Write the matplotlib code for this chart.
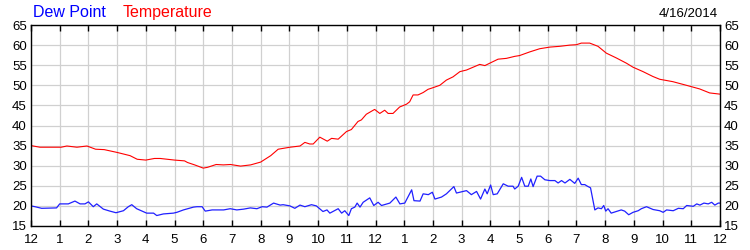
import matplotlib
matplotlib.use('Agg')
import matplotlib.pyplot as plt
import numpy as np

plt.rcParams['font.family'] = ['Liberation Sans', 'DejaVu Sans']

# ===== DADOS (horas desde meia-noite) =====
temp_h = [0.0, 0.31, 1.05, 1.25, 1.6, 1.95, 2.1, 2.25, 2.55, 3.0, 3.45, 3.7, 4.0, 4.3,
          4.5, 5.0, 5.35, 5.45, 5.7, 6.0, 6.15, 6.45, 6.7, 6.95, 7.3, 7.65, 8.0, 8.35,
          8.61, 9.02, 9.37, 9.54, 9.71, 9.83, 10.06, 10.32, 10.47, 10.70, 10.99, 11.16,
          11.39, 11.51, 11.68, 11.80, 11.97, 12.15, 12.32, 12.44, 12.61, 12.84, 13.08,
          13.19, 13.31, 13.48, 13.66, 13.83, 14.0, 14.24, 14.47, 14.70, 14.94, 15.17,
          15.40, 15.63, 15.81, 15.98, 16.27, 16.56, 16.85, 17.02, 17.37, 17.72, 18.07,
          18.42, 18.77, 19.0, 19.17, 19.46, 19.75, 20.04, 20.39, 20.74, 20.97, 21.32,
          21.66, 21.90, 22.36, 22.83, 23.29, 23.64, 24.0]
temp_v = [35.0, 34.6, 34.6, 34.9, 34.6, 34.9, 34.5, 34.1, 34.0, 33.3, 32.5, 31.6, 31.4,
          31.8, 31.8, 31.4, 31.2, 30.8, 30.2, 29.4, 29.6, 30.3, 30.2, 30.3, 29.9, 30.2,
          30.9, 32.5, 34.1, 34.6, 34.9, 35.8, 35.4, 35.4, 37.1, 36.1, 36.8, 36.6, 38.5,
          39.0, 41.0, 41.4, 42.8, 43.3, 44.0, 43.0, 43.8, 43.0, 43.0, 44.6, 45.3, 45.9,
          47.6, 47.6, 48.2, 49.0, 49.4, 50.0, 51.3, 52.1, 53.4, 53.8, 54.5, 55.2, 54.9,
          55.5, 56.5, 56.7, 57.2, 57.4, 58.3, 59.1, 59.5, 59.7, 60.0, 60.1, 60.5, 60.5,
          59.7, 58.0, 56.8, 55.5, 54.5, 53.4, 52.2, 51.5, 50.9, 50.0, 49.1, 48.1, 47.8]

dew_h = [0.0, 0.14, 0.37, 0.89, 1.0, 1.30, 1.53, 1.71, 1.88, 2.0, 2.17, 2.29, 2.52, 2.75,
         2.96, 3.22, 3.39, 3.51, 3.68, 4.03, 4.27, 4.38, 4.61, 4.96, 5.08, 5.31, 5.66,
         5.78, 5.96, 6.07, 6.31, 6.48, 6.71, 6.94, 7.17, 7.41, 7.64, 7.87, 8.05, 8.22,
         8.45, 8.68, 8.78, 9.02, 9.19, 9.37, 9.54, 9.77, 9.94, 10.17, 10.31, 10.41,
         10.70, 10.82, 10.93, 11.07, 11.16, 11.28, 11.36, 11.46, 11.57, 11.80, 11.94,
         12.09, 12.21, 12.50, 12.71, 12.85, 13.02, 13.26, 13.34, 13.55, 13.66, 13.84,
         13.98, 14.07, 14.30, 14.47, 14.73, 14.82, 15.17, 15.34, 15.52, 15.66, 15.81,
         15.89, 16.01, 16.10, 16.24, 16.45, 16.62, 16.79, 16.85, 16.97, 17.09, 17.20,
         17.32, 17.41, 17.49, 17.63, 17.75, 17.90, 18.07, 18.25, 18.36, 18.48, 18.60,
         18.77, 18.94, 19.06, 19.17, 19.29, 19.38, 19.49, 19.64, 19.75, 19.87, 19.95,
         20.02, 20.10, 20.21, 20.39, 20.56, 20.68, 20.82, 20.97, 21.15, 21.26, 21.44,
         21.67, 21.90, 22.02, 22.14, 22.37, 22.55, 22.72, 22.84, 23.07, 23.19, 23.30,
         23.44, 23.59, 23.71, 23.82, 23.94, 24.0]
dew_v = [20.0, 19.8, 19.4, 19.5, 20.5, 20.5, 21.2, 20.5, 20.5, 21.0, 19.8, 20.5, 19.2,
         18.7, 18.3, 18.8, 19.8, 20.3, 19.3, 18.2, 18.2, 17.6, 18.0, 18.2, 18.4, 19.0,
         19.7, 19.8, 19.8, 18.7, 19.0, 19.0, 19.0, 19.3, 19.0, 19.2, 19.5, 19.3, 19.8,
         19.7, 20.7, 20.2, 20.3, 20.0, 19.4, 20.2, 19.8, 20.3, 20.0, 18.6, 19.0, 18.2,
         19.3, 18.2, 18.8, 17.6, 19.3, 19.7, 20.7, 19.7, 20.9, 22.0, 20.1, 20.9, 20.1,
         20.7, 22.2, 20.5, 20.7, 24.0, 21.3, 21.2, 23.0, 22.8, 23.4, 21.7, 22.2, 23.0,
         24.8, 23.2, 23.8, 22.8, 23.6, 21.7, 24.2, 23.0, 25.2, 22.8, 23.0, 25.5, 24.9,
         24.9, 24.2, 24.9, 27.1, 24.9, 24.9, 26.7, 24.8, 27.4, 27.4, 26.5, 26.3, 26.3,
         25.7, 26.3, 25.7, 26.6, 25.6, 26.9, 25.3, 25.3, 24.9, 24.5, 19.0, 19.5, 19.3,
         20.1, 18.7, 19.3, 18.2, 18.6, 19.0, 18.7, 17.8, 18.4, 18.8, 19.3, 19.8, 19.1,
         18.8, 18.4, 19.0, 18.8, 19.4, 19.3, 20.1, 19.9, 20.5, 20.2, 20.7, 20.5, 20.9,
         20.2, 20.7, 20.7]

x_ticks = list(range(0, 25))
x_labels = ['12'] + [str(i) for i in range(1, 12)] + ['12'] + [str(i) for i in range(1, 12)] + ['12']
y_ticks = list(range(15, 70, 5))
date_txt = '4/16/2014'

# ===== PLOT =====
fig = plt.figure(figsize=(7.5, 2.5), dpi=100)
ax = fig.add_axes([31/750, 1 - 226/250, (720 - 31)/750, (226 - 25)/250])

ax.plot(dew_h, dew_v, color='#2020ff', linewidth=0.9)
ax.plot(temp_h, temp_v, color='#ff0000', linewidth=0.8)

ax.set_xlim(0, 24)
ax.set_ylim(15, 65)
ax.set_xticks(x_ticks)
ax.set_xticklabels(x_labels)
ax.set_yticks(y_ticks)
ax.grid(True, color='#d0d0d0', linewidth=0.9)
ax.set_axisbelow(True)

ax.tick_params(axis='x', direction='in', length=4, width=1, top=True, bottom=True,
               labelsize=9.5, pad=6, colors='black')
ax.tick_params(axis='y', length=0, left=True, right=True, labelleft=True,
               labelright=True, labelsize=9.5, pad=3)
for s in ax.spines.values():
    s.set_linewidth(1)
    s.set_color('black')

fig.text(33/750, 1 - 17/250, 'Dew Point', color='#0000ff', fontsize=11.5, va='baseline')
fig.text(123/750, 1 - 17/250, 'Temperature', color='#ff0000', fontsize=11.5, va='baseline')
fig.text(718/750, 1 - 17/250, date_txt, color='black', fontsize=9.5, va='baseline', ha='right')

plt.savefig('out.png', dpi=100)
